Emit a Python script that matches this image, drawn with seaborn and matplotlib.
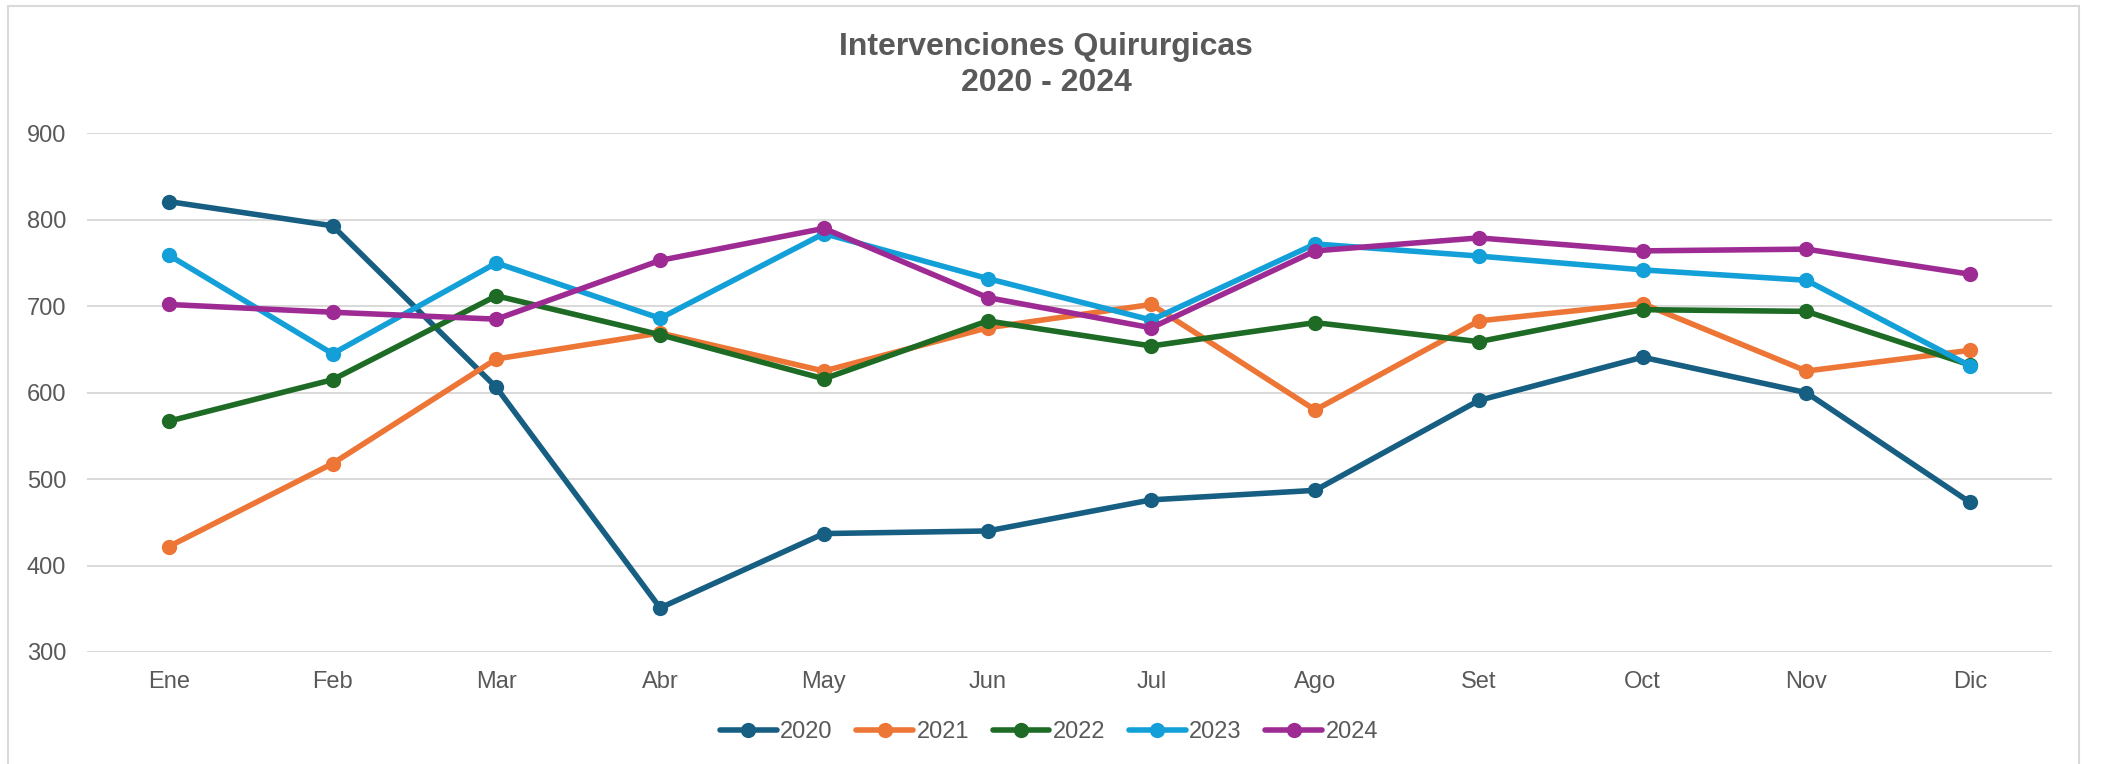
import matplotlib
matplotlib.use("Agg")
import matplotlib.pyplot as plt
from matplotlib.lines import Line2D
import seaborn as sns
import pandas as pd

meses = ["Ene", "Feb", "Mar", "Abr", "May", "Jun", "Jul", "Ago", "Set", "Oct", "Nov", "Dic"]
anios = ["2020", "2021", "2022", "2023", "2024"]
v2020 = [821, 793, 606, 351, 437, 440, 476, 487, 591, 641, 600, 473]
v2021 = [422, 518, 639, 669, 625, 675, 702, 580, 683, 703, 625, 649]
v2022 = [567, 615, 712, 667, 616, 683, 654, 681, 659, 696, 694, 632]
v2023 = [759, 645, 750, 686, 784, 732, 684, 772, 758, 742, 730, 631]
v2024 = [702, 693, 685, 753, 790, 710, 675, 764, 779, 764, 766, 737]
colores = ["#175F82", "#ED7535", "#1D6B25", "#13A0D8", "#9E2B94"]
yticks = [300, 400, 500, 600, 700, 800, 900]
titulo = "Intervenciones Quirurgicas\n2020 - 2024"

series = [v2020, v2021, v2022, v2023, v2024]
df = pd.DataFrame(
    [{"mes": m, "valor": v, "anio": a} for a, vals in zip(anios, series) for m, v in zip(meses, vals)]
)

sns.set_theme(style="white")
plt.rcParams["font.family"] = ["Liberation Sans", "DejaVu Sans"]

fig = plt.figure(figsize=(21.05, 7.64), dpi=100)
ax = fig.add_axes([87 / 2105, 1 - 652 / 764, (2052 - 87) / 2105, (652 - 133.3) / 764])

palette = dict(zip(anios, colores))
sns.lineplot(
    data=df, x="mes", y="valor", hue="anio", hue_order=anios, palette=palette,
    marker="o", markersize=11, markeredgewidth=0, linewidth=4, sort=False,
    legend=False, ax=ax,
)

ax.set_xlim(-0.5, len(meses) - 0.5)
ax.set_ylim(300, 900)
ax.set_yticks(yticks)
ax.set_xticks(range(len(meses)))
ax.set_xticklabels(meses)
ax.set_xlabel("")
ax.set_ylabel("")
ax.grid(axis="y", color="#D9D9D9", linewidth=1.4)
ax.grid(axis="x", visible=False)
ax.set_axisbelow(True)
for s in ax.spines.values():
    s.set_visible(False)
ax.tick_params(axis="both", length=0, labelsize=17, colors="#595959")
ax.tick_params(axis="y", pad=15)
ax.tick_params(axis="x", pad=14)

fig.text(1046 / 2105, 1 - 65 / 764, titulo, ha="center", va="center",
         fontsize=23, fontweight="bold", color="#595959", linespacing=1.3)

handles = [Line2D([0], [0], color=c, linewidth=4, marker="o", markersize=11,
                  markeredgewidth=0) for c in colores]
fig.legend(handles, anios, loc="center", bbox_to_anchor=(1049 / 2105, 1 - 732 / 764),
           ncol=5, frameon=False, fontsize=17, handlelength=2.4, handletextpad=0.15,
           columnspacing=1.0, labelcolor="#595959")

# chart border
bc = "#D9D9D9"
fig.add_artist(Line2D([8 / 2105, 8 / 2105], [0, 1 - 6 / 764], color=bc, linewidth=1.5))
fig.add_artist(Line2D([8 / 2105, 2079 / 2105], [1 - 6 / 764, 1 - 6 / 764], color=bc, linewidth=1.5))
fig.add_artist(Line2D([2079 / 2105, 2079 / 2105], [0, 1 - 6 / 764], color=bc, linewidth=1.5))

fig.savefig("out.png", dpi=100, facecolor="white")
